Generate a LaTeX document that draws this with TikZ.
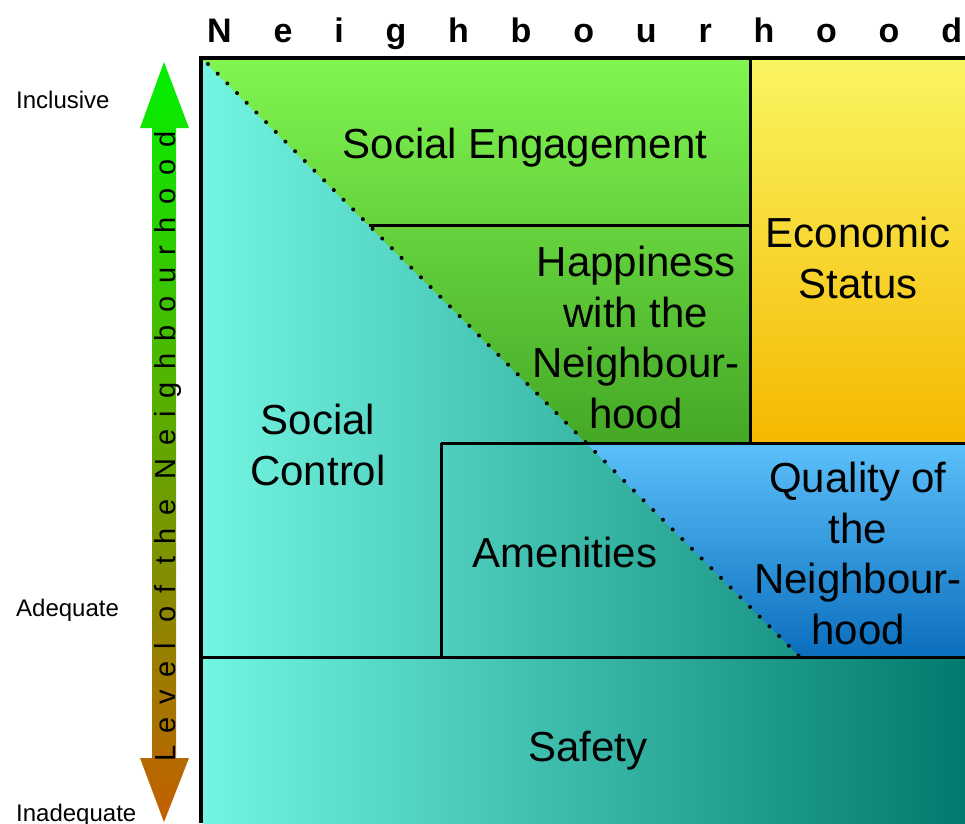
\documentclass[tikz,border=0pt]{standalone}
\usepackage{fontspec}
\setmainfont{Liberation Sans}

\definecolor{tealL}{RGB}{115,245,226}
\definecolor{tealR}{RGB}{0,122,108}
\definecolor{greenT}{RGB}{128,245,80}
\definecolor{greenB}{RGB}{68,168,38}
\definecolor{yellT}{RGB}{250,245,98}
\definecolor{yellB}{RGB}{245,184,0}
\definecolor{blueT}{RGB}{92,192,250}
\definecolor{blueB}{RGB}{10,110,190}
\definecolor{arrT}{RGB}{0,240,0}
\definecolor{arrM}{RGB}{85,170,0}
\definecolor{arrB}{RGB}{195,95,0}

\tikzset{
	area/.style={font=\fontsize{42}{50.5}\selectfont, align=center, inner sep=0pt, anchor=base},
	scalelabel/.style={font=\fontsize{24}{24}\selectfont, inner sep=0pt, anchor=base west},
	divider/.style={line width=3pt},
	frame/.style={line width=4pt},
	border/.style={line width=4pt, dash pattern=on 0pt off 13.7pt, line cap=round}
}

\begin{document}
\begin{tikzpicture}[x=1pt,y=-1pt]
	\useasboundingbox (0,0) rectangle (965,823);
	% coloured areas
	\shade[left color=tealL, right color=tealR] (203,60) rectangle (965,823);
	\shade[top color=greenT, bottom color=greenB] (203,60) -- (750,60) -- (750,443) -- (586,443) -- cycle;
	\shade[top color=yellT, bottom color=yellB] (750,60) rectangle (965,443);
	\shade[top color=blueT, bottom color=blueB] (586,443) -- (965,443) -- (965,657) -- (800,657) -- cycle;
	% level arrow
	\shade[top color=arrT, middle color=arrM, bottom color=arrB] (164,62) -- (189,128) -- (176,128) -- (176,758) -- (189,758) -- (164,822) -- (140,758) -- (152,758) -- (152,128) -- (140,128) -- cycle;
	% dividers
	\coordinate (diagA) at (208,64);
	\coordinate (diagB) at (800,657);
	\draw[divider] (750,60) -- (750,443);
	\draw[divider] (369,225) -- (750,225);
	\draw[divider] (441,443) -- (965,443);
	\draw[divider] (441,443) -- (441,657);
	\draw[divider] (203,657) -- (965,657);
	\draw[border] (diagA) -- (diagB);
	\draw[frame] (201,823) -- (201,58) -- (965,58);
	% texts
	\node (title) [anchor=base west, inner sep=0pt, font=\fontsize{34}{34}\selectfont\bfseries\addfontfeature{LetterSpace=123}] at (207,42) {Neighbourhood};
	\node (level) [rotate=90, anchor=base west, inner sep=0pt, font=\fontsize{29}{29}\selectfont\addfontfeature{LetterSpace=43}] at (175,762) {Level of the Neighbourhood};
	\node (inclusive) [scalelabel] at (16,108) {Inclusive};
	\node (adequate) [scalelabel] at (16,616) {Adequate};
	\node (inadequate) [scalelabel] at (16,821) {Inadequate};
	\node (engagement) [area] at (525,158) {Social Engagement};
	\node (happiness) [area] at (636,428) {Happiness\\with the\\Neighbour-\\hood};
	\node (economic) [area] at (858,298) {Economic\\Status};
	\node (control) [area] at (318,485) {Social\\Control};
	\node (amenities) [area] at (565,567) {Amenities};
	\node (quality) [area] at (858,644) {Quality of\\the\\Neighbour-\\hood};
	\node (safety) [area] at (588,761) {Safety};
\end{tikzpicture}
\end{document}
